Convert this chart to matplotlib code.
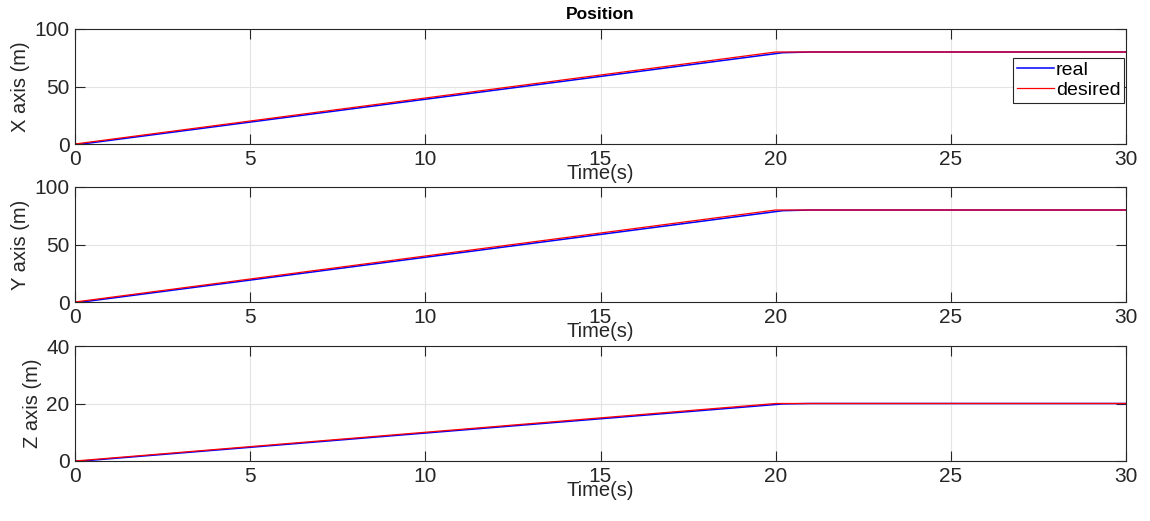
import matplotlib
matplotlib.use('Agg')
import matplotlib.pyplot as plt

plt.rcParams['font.family'] = ['Liberation Sans', 'DejaVu Sans']

# Data
t_desired = [0, 20, 30]
x_desired = [0, 80, 80]
y_desired = [0, 80, 80]
z_desired = [0, 20, 20]

t_real = [0, 0.2, 20.2, 21, 30]
x_real = [0, 0, 79.4, 80, 80]
y_real = [0, 0, 79.4, 80, 80]
z_real = [0, 0, 19.85, 20, 20]

ylabels = ['X axis (m)', 'Y axis (m)', 'Z axis (m)']
ylims = [(0, 100), (0, 100), (0, 40)]
yticks = [[0, 50, 100], [0, 50, 100], [0, 20, 40]]
xticks = [0, 5, 10, 15, 20, 25, 30]

real_series = [x_real, y_real, z_real]
desired_series = [x_desired, y_desired, z_desired]

fig = plt.figure(figsize=(11.5, 5.21), dpi=100)
W, H = 1150, 521
left, right = 75, 1126
tops = [29, 187, 346]
height = 115

for i in range(3):
    ax = fig.add_axes([left / W, 1 - (tops[i] + height) / H, (right - left) / W, height / H])
    ax.plot(t_real, real_series[i], color='blue', lw=1.1, label='real')
    ax.plot(t_desired, desired_series[i], color='red', lw=0.9, label='desired')
    ax.set_xlim(0, 30)
    ax.set_ylim(*ylims[i])
    ax.set_xticks(xticks)
    ax.set_yticks(yticks[i])
    ax.grid(True, color='#e3e3e3', lw=0.8)
    ax.set_axisbelow(True)
    ax.tick_params(direction='in', length=7, top=True, right=True,
                   labelsize=15, colors='#262626', width=0.8, pad=4)
    for s in ax.spines.values():
        s.set_color('#262626')
        s.set_linewidth(0.8)
    ax.set_ylabel(ylabels[i], fontsize=14.5, color='#262626', labelpad=3)
    ax.set_xlabel('Time(s)', fontsize=14.5, color='#262626', labelpad=-3)
    if i == 0:
        ax.set_title('Position', fontsize=12.5, fontweight='bold', pad=7)
        leg = ax.legend(loc='upper right', bbox_to_anchor=(0.9985, 0.75),
                        fontsize=14, fancybox=False, framealpha=1,
                        edgecolor='#262626', handlelength=1.9,
                        handletextpad=0.1, borderpad=0.2, labelspacing=0.1,
                        borderaxespad=0)
        leg.get_frame().set_linewidth(0.8)

fig.savefig('out.png', dpi=100)
